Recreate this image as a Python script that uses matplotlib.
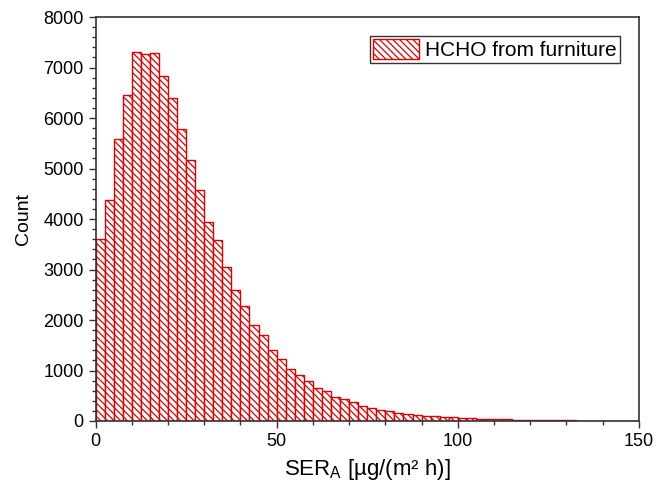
import numpy as np
import matplotlib
matplotlib.use('Agg')
import matplotlib.pyplot as plt
from matplotlib.ticker import MultipleLocator

plt.rcParams['font.family'] = ['Liberation Sans', 'DejaVu Sans']
plt.rcParams['mathtext.default'] = 'regular'
plt.rcParams['hatch.color'] = '#e00000'
plt.rcParams['hatch.linewidth'] = 0.9

# histogram data: bins of 2.5 from 0 to 150
bin_width = 2.5
bin_left = np.arange(0, 150, bin_width)
counts = [3610, 4370, 5590, 6460, 7310, 7265, 7290, 6830, 6390, 5780,
          5175, 4570, 3950, 3590, 3055, 2600, 2280, 1900, 1705, 1400,
          1230, 1020, 915, 785, 660, 600, 470, 440, 370, 300,
          265, 220, 190, 165, 145, 125, 105, 92, 80, 70,
          60, 52, 45, 40, 35, 30, 26, 22, 19, 16,
          14, 12, 10, 9, 8, 7, 6, 5, 4, 3]
series_label = 'HCHO from furniture'

fig = plt.figure(figsize=(6.56, 4.88), dpi=100)
ax = fig.add_axes([0.1456, 0.1373, 0.8284, 0.8277])

# построение гистограммы
ax.bar(bin_left, counts, width=bin_width, align='edge', facecolor='white',
       edgecolor='#e00000', linewidth=1.0, hatch='\\\\\\\\\\', label=series_label)

ax.set_xlim(0, 150)
ax.set_ylim(0, 8000)
ax.xaxis.set_major_locator(MultipleLocator(50))
ax.xaxis.set_minor_locator(MultipleLocator(10))
ax.yaxis.set_major_locator(MultipleLocator(1000))
ax.yaxis.set_minor_locator(MultipleLocator(200))
ax.tick_params(which='both', direction='out', colors='#333333', labelcolor='black',
               labelsize=13, top=False, right=False)
ax.tick_params(which='major', length=5, width=1)
ax.tick_params(which='minor', length=3, width=1)
for sp in ax.spines.values():
    sp.set_color('#333333')
    sp.set_linewidth(1.2)

ax.set_xlabel('SER$_A$ [µg/(m² h)]', fontsize=16, labelpad=5)
ax.set_ylabel('Count', fontsize=14, labelpad=8)

leg = ax.legend(loc='upper right', fontsize=15, frameon=True, fancybox=False,
                edgecolor='black', handlelength=2.2, handleheight=1.1,
                borderaxespad=0.9, borderpad=0.15, handletextpad=0.3)
leg.get_frame().set_linewidth(1.0)

fig.savefig('out.png', dpi=100)
